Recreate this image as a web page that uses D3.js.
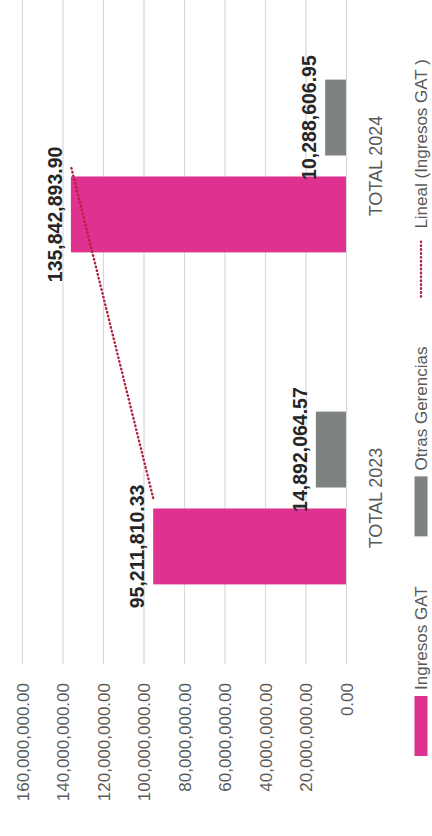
<!DOCTYPE html>
<html>
<head>
<meta charset="utf-8">
<script src="https://cdn.jsdelivr.net/npm/d3@7"></script>
<style>
  body { margin: 0; background: #fff; }
  svg { display: block; }
  text { font-family: "Liberation Sans", Arial, sans-serif; }
</style>
</head>
<body>
<svg id="chart" width="432" height="836"></svg>
<script>
// data
var categories = ["TOTAL 2023", "TOTAL 2024"];
var seriesNames = ["Ingresos GAT", "Otras Gerencias"];
var ingresosGAT = [95211810.33, 135842893.90];
var otrasGerencias = [14892064.57, 10288606.95];
var yTicks = [0, 20000000, 40000000, 60000000, 80000000, 100000000, 120000000, 140000000, 160000000];
var trendName = "Lineal (Ingresos GAT )";

var colors = { "Ingresos GAT": "#df3290", "Otras Gerencias": "#7f8380" };
var trendColor = "#b3213c";

drawChart();

function drawChart() {
    var svg = d3.select("#chart");
    svg.selectAll("*").remove();

    // the chart is drawn in an 836x432 frame, then turned a quarter turn left
    var W = 836;
    var g = svg.append("g").attr("transform", "translate(0," + W + ") rotate(-90)");

    var y = d3.scaleLinear().domain([0, 160000000]).range([346, 22]);
    var x0 = d3.scaleBand().domain(categories).range([172, 836]);
    var x1 = d3.scaleBand().domain(seriesNames).range([0, x0.bandwidth()])
        .paddingInner(0.2165).paddingOuter(0.822);

    var fmt = d3.format(",.2f");

    // value axis + gridlines
    var yAxis = g.append("g")
        .attr("transform", "translate(172,0)")
        .call(d3.axisLeft(y).tickValues(yTicks).tickSize(-(836 - 172)).tickPadding(19).tickFormat(fmt));
    yAxis.select(".domain").remove();
    yAxis.selectAll(".tick line").attr("stroke", "#d9d9d9").attr("stroke-width", 1.2);
    yAxis.selectAll(".tick text")
        .attr("fill", "#595959")
        .style("font-size", "17px")
        .attr("dy", "0.36em");

    // category axis
    var xAxis = g.append("g")
        .attr("transform", "translate(0," + y(0) + ")")
        .call(d3.axisBottom(x0).tickSize(0).tickPadding(23));
    xAxis.select(".domain").remove();
    xAxis.selectAll(".tick text")
        .attr("fill", "#595959")
        .style("font-size", "18px");

    var rows = categories.map(function (c, i) {
        return { cat: c, values: [
            { name: "Ingresos GAT", value: ingresosGAT[i] },
            { name: "Otras Gerencias", value: otrasGerencias[i] }
        ] };
    });

    var groups = g.selectAll(".cat")
        .data(rows)
        .enter().append("g")
        .attr("class", "cat")
        .attr("transform", function (d) { return "translate(" + x0(d.cat) + ",0)"; });

    groups.selectAll("rect")
        .data(function (d) { return d.values; })
        .enter().append("rect")
        .attr("x", function (d) { return x1(d.name); })
        .attr("width", x1.bandwidth())
        .attr("y", function (d) { return y(d.value); })
        .attr("height", function (d) { return y(0) - y(d.value); })
        .attr("fill", function (d) { return colors[d.name]; });

    // linear trendline of Ingresos GAT, at category centres
    var xs = categories.map(function (c, i) { return i + 1; });
    var mx = d3.mean(xs), my = d3.mean(ingresosGAT);
    var slope = d3.sum(xs, function (v, i) { return (v - mx) * (ingresosGAT[i] - my); }) /
                d3.sum(xs, function (v) { return (v - mx) * (v - mx); });
    var trend = categories.map(function (c, i) {
        return { cat: c, value: my + slope * (xs[i] - mx) };
    });
    var line = d3.line()
        .x(function (d) { return x0(d.cat) + x0.bandwidth() / 2; })
        .y(function (d) { return y(d.value); });
    g.append("path")
        .datum(trend)
        .attr("d", line)
        .attr("fill", "none")
        .attr("stroke", trendColor)
        .attr("stroke-width", 2.4)
        .attr("stroke-linecap", "round")
        .attr("stroke-dasharray", "0.5,3.4");

    // value labels
    groups.selectAll(".lbl")
        .data(function (d) { return d.values; })
        .enter().append("text")
        .attr("class", "lbl")
        .attr("x", function (d) { return x1(d.name) + x1.bandwidth() / 2; })
        .attr("y", function (d) { return y(d.value) - 9; })
        .attr("text-anchor", "middle")
        .attr("fill", "#262626")
        .style("font-size", "19.5px")
        .style("font-weight", "bold")
        .text(function (d) { return fmt(d.value); });

    // legend along the bottom of the frame
    var legend = g.append("g").attr("transform", "translate(0,421)");
    var cursor = 80;
    var items = seriesNames.map(function (n) { return { name: n, kind: "bar" }; })
        .concat([{ name: trendName, kind: "line" }]);
    items.forEach(function (it) {
        if (it.kind === "bar") {
            legend.append("rect")
                .attr("x", cursor).attr("y", -6.5)
                .attr("width", 60).attr("height", 13)
                .attr("fill", colors[it.name]);
            cursor += 66;
        } else {
            legend.append("line")
                .attr("x1", cursor).attr("x2", cursor + 55)
                .attr("y1", 0).attr("y2", 0)
                .attr("stroke", trendColor)
                .attr("stroke-width", 2.4)
                .attr("stroke-linecap", "round")
                .attr("stroke-dasharray", "0.5,3.4");
            cursor += 68;
        }
        var t = legend.append("text")
            .attr("x", cursor).attr("y", 0)
            .attr("dy", "0.36em")
            .attr("fill", "#595959")
            .style("font-size", "17px")
            .text(it.name);
        cursor += t.node().getComputedTextLength() + 50;
    });
}
</script>
</body>
</html>
